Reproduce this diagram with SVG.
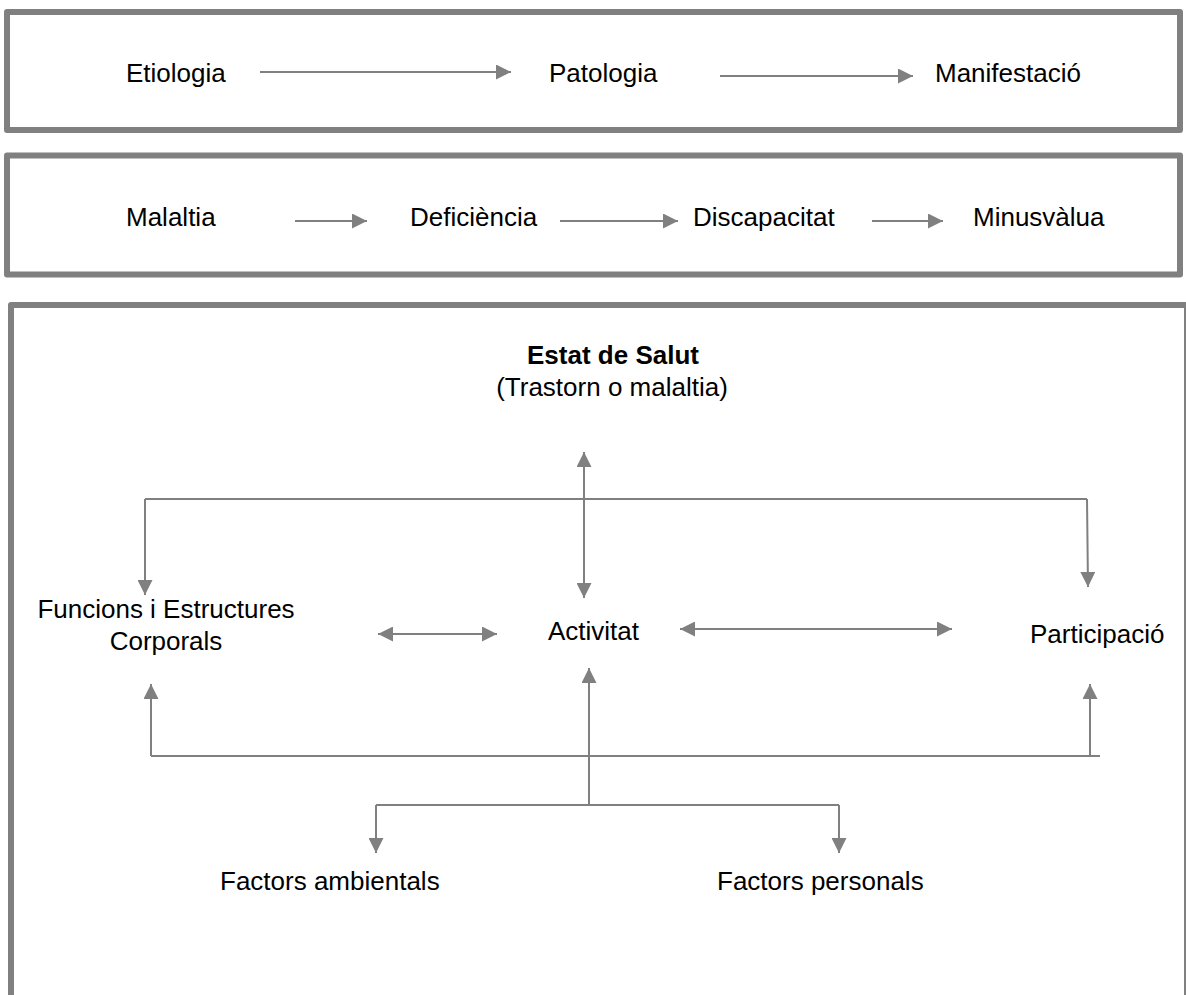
<svg xmlns="http://www.w3.org/2000/svg" width="1186" height="995" viewBox="0 0 1186 995">
<style>
.box{fill:#fff;stroke:#808080;stroke-width:6;stroke-linejoin:round}
.t{font-family:"Liberation Sans",Arial,sans-serif;font-size:26px;fill:#000}
.b{font-weight:bold}
.c{fill:none;stroke:#808080;stroke-width:2}
</style>
<defs>
<marker id="ah" viewBox="0 0 10 10" refX="10" refY="5" markerUnits="userSpaceOnUse" markerWidth="15" markerHeight="15" orient="auto-start-reverse">
<path d="M0,0 L10,5 L0,10 z" fill="#808080"/>
</marker>
</defs>
<rect width="1186" height="995" fill="#fff"/>
<g id="box1"><rect class="box" x="7" y="12" width="1173" height="118"/></g>
<g id="box2"><rect class="box" x="7" y="155.5" width="1173" height="119"/></g>
<g id="box3"><rect class="box" x="11" y="305" width="1176" height="720"/></g>
<g id="etiologia"><text class="t" x="126" y="82">Etiologia</text></g>
<g id="patologia"><text class="t" x="549" y="82">Patologia</text></g>
<g id="manifestacio"><text class="t" x="935" y="82">Manifestació</text></g>
<g id="malaltia"><text class="t" x="126" y="226">Malaltia</text></g>
<g id="deficiencia"><text class="t" x="410" y="226">Deficiència</text></g>
<g id="discapacitat"><text class="t" x="693" y="226">Discapacitat</text></g>
<g id="minusvalua"><text class="t" x="973" y="226">Minusvàlua</text></g>
<g id="estat"><text class="t b" x="613" y="364" text-anchor="middle">Estat de Salut</text><text class="t" x="612" y="396" text-anchor="middle">(Trastorn o malaltia)</text></g>
<g id="funcions"><text class="t" x="166" y="618" text-anchor="middle">Funcions i Estructures</text><text class="t" x="166" y="650" text-anchor="middle">Corporals</text></g>
<g id="activitat"><text class="t" x="548" y="640">Activitat</text></g>
<g id="participacio"><text class="t" x="1030" y="643">Participació</text></g>
<g id="ambientals"><text class="t" x="220" y="890">Factors ambientals</text></g>
<g id="personals"><text class="t" x="717" y="890">Factors personals</text></g>
<g id="connectors">
<line class="c" x1="260" y1="72" x2="511" y2="72" marker-end="url(#ah)"/>
<line class="c" x1="720" y1="76" x2="913" y2="76" marker-end="url(#ah)"/>
<line class="c" x1="295" y1="221" x2="367" y2="221" marker-end="url(#ah)"/>
<line class="c" x1="560" y1="221" x2="678" y2="221" marker-end="url(#ah)"/>
<line class="c" x1="872" y1="221" x2="943" y2="221" marker-end="url(#ah)"/>
<line class="c" x1="584" y1="452" x2="584" y2="598" marker-start="url(#ah)" marker-end="url(#ah)"/>
<line class="c" x1="145" y1="499" x2="1087" y2="499"/>
<line class="c" x1="145" y1="499" x2="145" y2="595" marker-end="url(#ah)"/>
<line class="c" x1="1087" y1="499" x2="1088" y2="587" marker-end="url(#ah)"/>
<line class="c" x1="378" y1="634" x2="497" y2="634" marker-start="url(#ah)" marker-end="url(#ah)"/>
<line class="c" x1="680" y1="629" x2="952" y2="629" marker-start="url(#ah)" marker-end="url(#ah)"/>
<line class="c" x1="589" y1="805" x2="589" y2="668" marker-end="url(#ah)"/>
<line class="c" x1="151" y1="756" x2="1100" y2="756"/>
<line class="c" x1="151" y1="756" x2="151" y2="684" marker-end="url(#ah)"/>
<line class="c" x1="1090" y1="756" x2="1090" y2="684" marker-end="url(#ah)"/>
<line class="c" x1="376" y1="805" x2="839" y2="805"/>
<line class="c" x1="376" y1="805" x2="376" y2="853" marker-end="url(#ah)"/>
<line class="c" x1="839" y1="805" x2="839" y2="853" marker-end="url(#ah)"/>
</g>
</svg>
